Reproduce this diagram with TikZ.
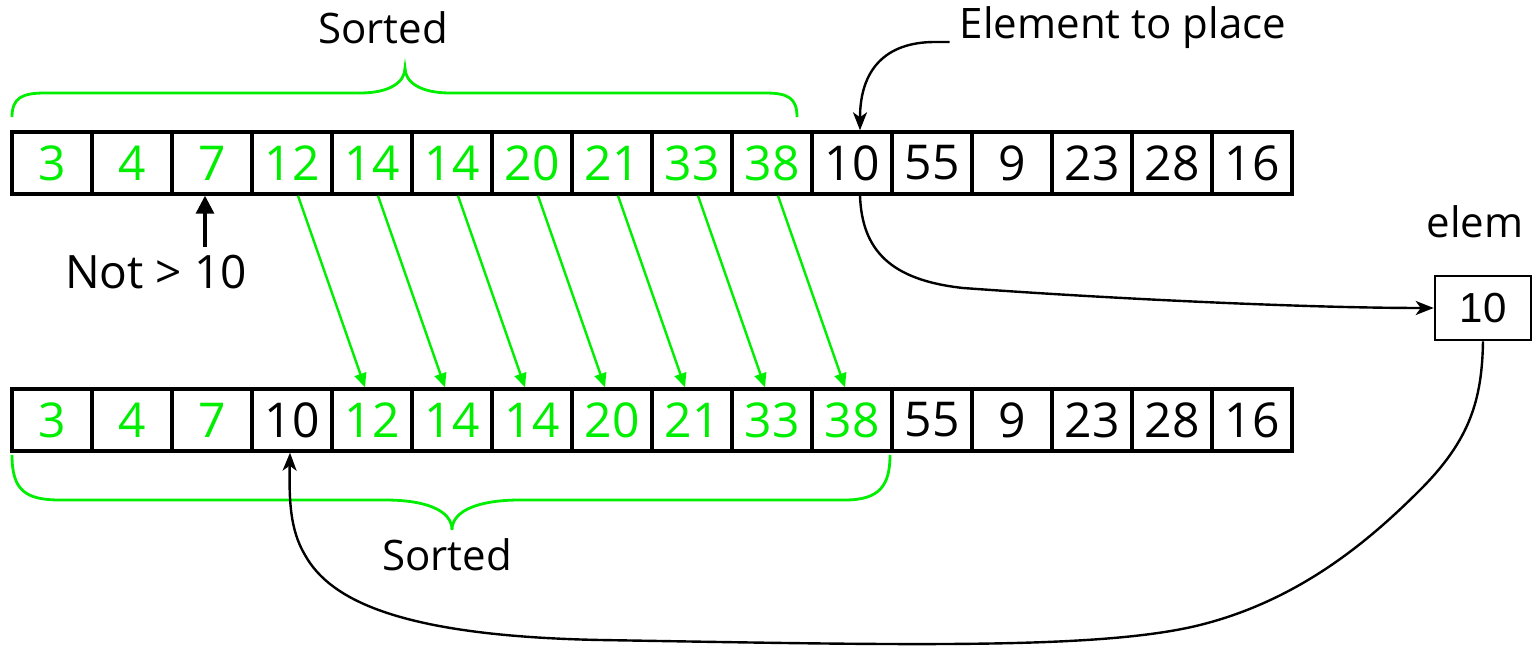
\documentclass[tikz,border=0pt]{standalone}
\usepackage{fontspec}
\setmainfont{Open Sans}
\newfontfamily\arialf{Liberation Sans}
\usetikzlibrary{arrows.meta,calc}
\definecolor{grn}{HTML}{00EE00}
\begin{document}
\begin{tikzpicture}[x=0.5pt,y=-0.5pt,
  cell/.style={draw,line width=1.7pt,minimum width=40pt,minimum height=31pt,inner sep=0pt,font=\fontsize{24}{24}\selectfont},
  lbl/.style={inner sep=0pt,font=\fontsize{21}{21}\selectfont},
  garrow/.style={draw=grn,line width=1.2pt,-{Triangle[length=7pt,width=6pt]}},
  barrow/.style={draw=black,line width=1.2pt,-{Stealth[length=9pt,width=7pt,inset=2.5pt]}},
  brace/.style={draw=grn,line width=1.4pt}]
\useasboundingbox (0,0) rectangle (1533,646);
% top row
\foreach \v/\c [count=\i] in {3/grn,4/grn,7/grn,12/grn,14/grn,14/grn,20/grn,21/grn,33/grn,38/grn,10/black,55/black,9/black,23/black,28/black,16/black}
  \node[cell,text=\c] (t\i) at ({52+80*(\i-1)},163) {\v};
% bottom row
\foreach \v/\c [count=\i] in {3/grn,4/grn,7/grn,10/black,12/grn,14/grn,14/grn,20/grn,21/grn,33/grn,38/grn,55/black,9/black,23/black,28/black,16/black}
  \node[cell,text=\c] (b\i) at ({52+80*(\i-1)},420) {\v};
% elem box
\node[cell,minimum width=48pt,minimum height=32pt,line width=1.3pt,font=\fontsize{21}{21}\selectfont\arialf] (e) at (1483,308) {10};
% labels
\node[lbl] (s1) at (383,28) {Sorted};
\node[lbl] (etp) at (1123,28) {Element to place};
\node[lbl,font=\fontsize{23}{23}\selectfont] (nt) at (156,272) {Not > 10};
\node[lbl] (el) at (1475,222) {elem};
\node[lbl] (s2) at (447,555) {Sorted};
% braces
\draw[brace] (12,117) .. controls (12,98) and (22,93) .. (45,93) -- (360,93) .. controls (390,93) and (405,82) .. (405,68)
  .. controls (405,82) and (420,93) .. (450,93) -- (765,93) .. controls (788,93) and (797,98) .. (797,117);
\draw[brace] (12,455) .. controls (12,490) and (25,500) .. (60,500) -- (385,500) .. controls (425,500) and (452,510) .. (452,530)
  .. controls (452,510) and (480,500) .. (520,500) -- (845,500) .. controls (880,500) and (890,485) .. (890,455);
% green shift arrows
\foreach \i [evaluate=\i as \j using int(\i+1)] in {4,...,10}
  \draw[garrow] ([xshift=3pt]t\i.south) -- ([xshift=-3.5pt]b\j.north);
% not > 10
\draw[line width=1.6pt,-{Triangle[length=9pt,width=9pt]}] ([xshift=-3.5pt]t3.south |- nt.north) ++(0,-8) -- ([xshift=-3.5pt]t3.south);
% element to place
\draw[barrow] ([xshift=-5pt,yshift=-7pt]etp.west) -- (935,42) .. controls (885,42) and (860,70) .. ([xshift=4pt]t11.north);
% to elem
\draw[barrow] ([xshift=4pt]t11.south) .. controls (862,250) and (890,280) .. (963,288) .. controls (1100,298) and (1300,308) .. (e.west);
% back to array
\draw[barrow] (e.south) .. controls (1482,400) and (1470,440) .. (1420,490) .. controls (1370,540) and (1300,600) .. (1200,625)
  .. controls (1100,650) and (900,645) .. (600,640) .. controls (400,636) and (330,600) .. (305,555)
  .. controls (290,530) and (289,500) .. ([xshift=-1pt]b4.south);
\end{tikzpicture}
\end{document}
